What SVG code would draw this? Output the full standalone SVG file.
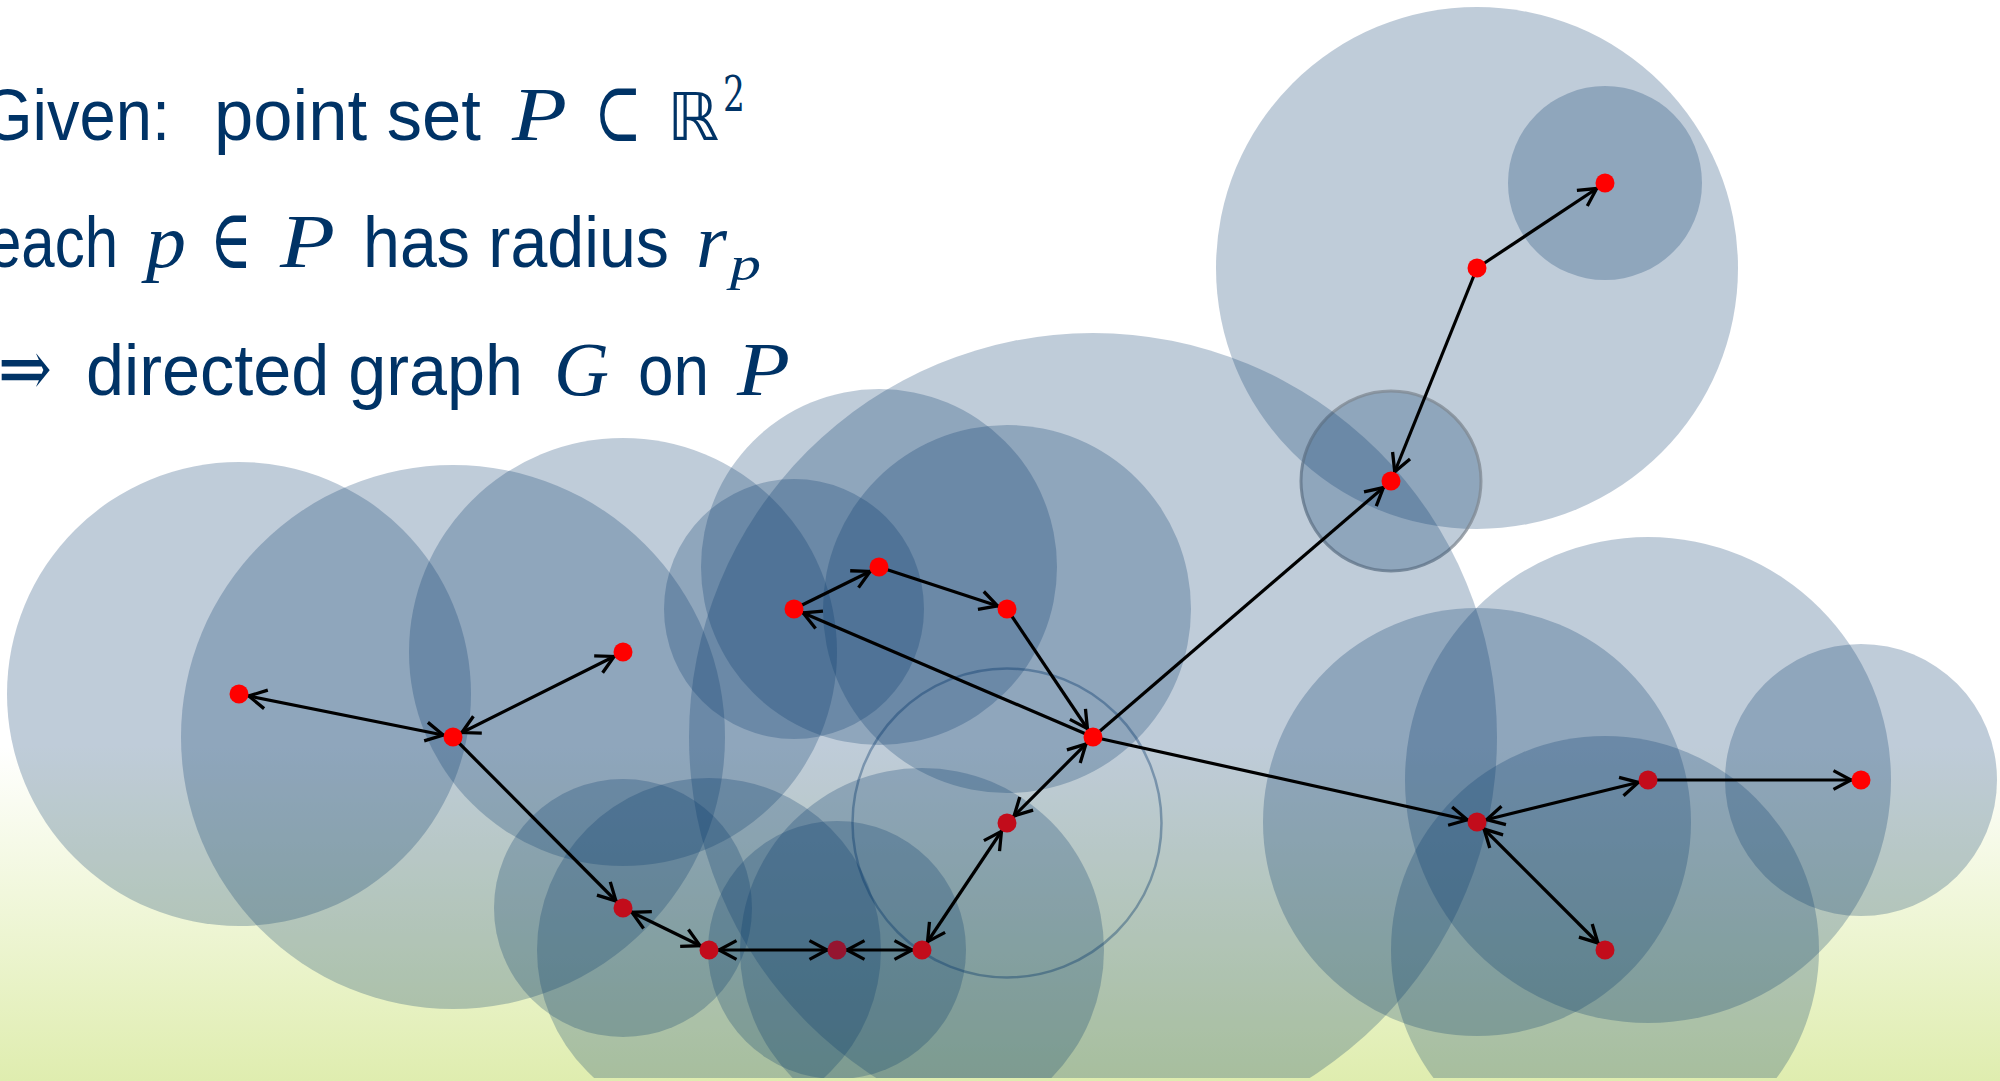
<svg xmlns="http://www.w3.org/2000/svg" width="2000" height="1081" viewBox="0 0 2000 1081">
<defs>
<linearGradient id="bg" x1="0" y1="0" x2="0" y2="1081" gradientUnits="userSpaceOnUse">
<stop offset="0.69" stop-color="#ffffff"/>
<stop offset="1" stop-color="#dfedaf"/>
</linearGradient>
<clipPath id="clip"><rect x="0" y="0" width="2000" height="1078"/></clipPath>
<marker id="arr" markerUnits="userSpaceOnUse" orient="auto-start-reverse" overflow="visible" markerWidth="1" markerHeight="1" refX="0" refY="0">
<path d="M-27.5,-9.4 L-10,0 L-27.5,9.4" fill="none" stroke="#000" stroke-width="3.3"/>
</marker>
<style>
.disk{fill:#003366;fill-opacity:0.25}
.edge{stroke:#000;stroke-width:3.2;fill:none}
.dot{stroke:none}
.hi{fill:#ff0000}
.lo{fill:#c20c1b}
.lo2{fill:#951530}
.t{font-family:"Liberation Sans",Arial,sans-serif;font-size:72px;fill:#003366}
.m{font-family:"Liberation Serif","Times New Roman",serif;font-style:italic;font-size:76px;fill:#003366}
.s{font-family:"DejaVu Serif","DejaVu Sans",serif;font-size:66px;fill:#003366}
</style>
</defs>
<rect x="0" y="0" width="2000" height="1081" fill="url(#bg)"/>

<g id="text">
<text class="t" x="-18" y="140" textLength="188" lengthAdjust="spacingAndGlyphs">Given:</text>
<text class="t" x="214" y="140" textLength="267" lengthAdjust="spacingAndGlyphs">point set</text>
<text class="m" x="512" y="140" textLength="55" lengthAdjust="spacingAndGlyphs">P</text>
<text class="s" x="594" y="141" style="font-size:84px" textLength="48" lengthAdjust="spacingAndGlyphs">⊂</text>
<text class="s" x="667" y="140" textLength="52" lengthAdjust="spacingAndGlyphs" style="font-family:'DejaVu Sans',sans-serif">ℝ</text>
<text class="s" x="723" y="111" style="font-size:48px" textLength="22" lengthAdjust="spacingAndGlyphs">2</text>

<text class="t" x="-12" y="267" textLength="130" lengthAdjust="spacingAndGlyphs">each</text>
<text class="m" x="146" y="267" textLength="40" lengthAdjust="spacingAndGlyphs">p</text>
<text class="s" x="210" y="268" style="font-size:84px" textLength="42" lengthAdjust="spacingAndGlyphs">∈</text>
<text class="m" x="280" y="267" textLength="55" lengthAdjust="spacingAndGlyphs">P</text>
<text class="t" x="363" y="267" textLength="306" lengthAdjust="spacingAndGlyphs">has radius</text>
<text class="m" x="696" y="267" textLength="31" lengthAdjust="spacingAndGlyphs">r</text>
<text class="m" x="730" y="280" style="font-size:48px" textLength="31" lengthAdjust="spacingAndGlyphs">p</text>

<text class="s" x="-2" y="396" style="font-size:80px" textLength="54" lengthAdjust="spacingAndGlyphs">⇒</text>
<text class="t" x="86" y="395" textLength="437" lengthAdjust="spacingAndGlyphs">directed graph</text>
<text class="m" x="554" y="395" textLength="55" lengthAdjust="spacingAndGlyphs">G</text>
<text class="t" x="638" y="395" textLength="71" lengthAdjust="spacingAndGlyphs">on</text>
<text class="m" x="737" y="395" textLength="53" lengthAdjust="spacingAndGlyphs">P</text>
</g>

<g id="disks" clip-path="url(#clip)">
<circle id="disk-p1" class="disk" cx="1605" cy="183" r="97"/>
<circle id="disk-p2" class="disk" cx="1477" cy="268" r="261"/>
<circle id="disk-p3" class="disk" cx="1391" cy="481" r="90" stroke="#7f8891" stroke-opacity="0.75" stroke-width="3"/>
<circle id="disk-p4" class="disk" cx="879" cy="567" r="178"/>
<circle id="disk-p5" class="disk" cx="794" cy="609" r="130"/>
<circle id="disk-p6" class="disk" cx="1007" cy="609" r="184"/>
<circle id="disk-p7" class="disk" cx="1093" cy="737" r="404"/>
<circle id="disk-p8" class="disk" cx="239" cy="694" r="232"/>
<circle id="disk-p9" class="disk" cx="453" cy="737" r="272"/>
<circle id="disk-p10" class="disk" cx="623" cy="652" r="214"/>
<circle id="disk-p11" cx="1007" cy="823" r="154.5" fill="none" stroke="#003366" stroke-opacity="0.36" stroke-width="2.5"/>
<circle id="disk-p12" class="disk" cx="623" cy="908" r="129"/>
<circle id="disk-p13" class="disk" cx="709" cy="950" r="172"/>
<circle id="disk-p14" class="disk" cx="837" cy="950" r="129"/>
<circle id="disk-p15" class="disk" cx="922" cy="950" r="182"/>
<circle id="disk-p16" class="disk" cx="1477" cy="822" r="214"/>
<circle id="disk-p17" class="disk" cx="1648" cy="780" r="243"/>
<circle id="disk-p18" class="disk" cx="1861" cy="780" r="136"/>
<circle id="disk-p19" class="disk" cx="1605" cy="950" r="214"/>
</g>

<g id="connectors">
<line class="edge" x1="1477" y1="268" x2="1605" y2="183" marker-end="url(#arr)"/>
<line class="edge" x1="1477" y1="268" x2="1391" y2="481" marker-end="url(#arr)"/>
<line class="edge" x1="1093" y1="737" x2="1391" y2="481" marker-end="url(#arr)"/>
<line class="edge" x1="794" y1="609" x2="879" y2="567" marker-end="url(#arr)"/>
<line class="edge" x1="879" y1="567" x2="1007" y2="609" marker-end="url(#arr)"/>
<line class="edge" x1="1007" y1="609" x2="1093" y2="737" marker-end="url(#arr)"/>
<line class="edge" x1="1093" y1="737" x2="794" y2="609" marker-end="url(#arr)"/>
<line class="edge" x1="1093" y1="737" x2="1007" y2="823" marker-start="url(#arr)" marker-end="url(#arr)"/>
<line class="edge" x1="1007" y1="823" x2="922" y2="950" marker-start="url(#arr)" marker-end="url(#arr)"/>
<line class="edge" x1="837" y1="950" x2="922" y2="950" marker-start="url(#arr)" marker-end="url(#arr)"/>
<line class="edge" x1="709" y1="950" x2="837" y2="950" marker-start="url(#arr)" marker-end="url(#arr)"/>
<line class="edge" x1="623" y1="908" x2="709" y2="950" marker-start="url(#arr)" marker-end="url(#arr)"/>
<line class="edge" x1="453" y1="737" x2="623" y2="908" marker-end="url(#arr)"/>
<line class="edge" x1="239" y1="694" x2="453" y2="737" marker-start="url(#arr)" marker-end="url(#arr)"/>
<line class="edge" x1="453" y1="737" x2="623" y2="652" marker-start="url(#arr)" marker-end="url(#arr)"/>
<line class="edge" x1="1093" y1="737" x2="1477" y2="822" marker-end="url(#arr)"/>
<line class="edge" x1="1477" y1="822" x2="1648" y2="780" marker-start="url(#arr)" marker-end="url(#arr)"/>
<line class="edge" x1="1648" y1="780" x2="1861" y2="780" marker-end="url(#arr)"/>
<line class="edge" x1="1477" y1="822" x2="1605" y2="950" marker-start="url(#arr)" marker-end="url(#arr)"/>
</g>

<g id="nodes">
<g id="p1"><circle class="dot hi" cx="1605" cy="183" r="9.5"/></g>
<g id="p2"><circle class="dot hi" cx="1477" cy="268" r="9.5"/></g>
<g id="p3"><circle class="dot hi" cx="1391" cy="481" r="9.5"/></g>
<g id="p4"><circle class="dot hi" cx="879" cy="567" r="9.5"/></g>
<g id="p5"><circle class="dot hi" cx="794" cy="609" r="9.5"/></g>
<g id="p6"><circle class="dot hi" cx="1007" cy="609" r="9.5"/></g>
<g id="p7"><circle class="dot hi" cx="1093" cy="737" r="9.5"/></g>
<g id="p8"><circle class="dot hi" cx="239" cy="694" r="9.5"/></g>
<g id="p9"><circle class="dot hi" cx="453" cy="737" r="9.5"/></g>
<g id="p10"><circle class="dot hi" cx="623" cy="652" r="9.5"/></g>
<g id="p11"><circle class="dot lo" cx="1007" cy="823" r="9.5"/></g>
<g id="p12"><circle class="dot lo" cx="623" cy="908" r="9.5"/></g>
<g id="p13"><circle class="dot lo" cx="709" cy="950" r="9.5"/></g>
<g id="p14"><circle class="dot lo2" cx="837" cy="950" r="9.5"/></g>
<g id="p15"><circle class="dot lo" cx="922" cy="950" r="9.5"/></g>
<g id="p16"><circle class="dot lo" cx="1477" cy="822" r="9.5"/></g>
<g id="p17"><circle class="dot lo" cx="1648" cy="780" r="9.5"/></g>
<g id="p18"><circle class="dot hi" cx="1861" cy="780" r="9.5"/></g>
<g id="p19"><circle class="dot lo" cx="1605" cy="950" r="9.5"/></g>
</g>
</svg>
